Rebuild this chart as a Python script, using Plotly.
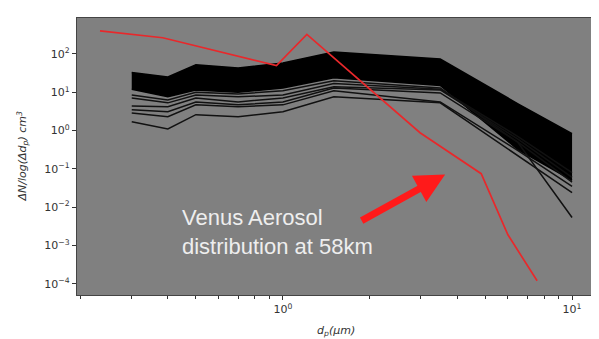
import numpy as np
import plotly.graph_objects as go

# ---- data ----
dp = [0.3, 0.4, 0.5, 0.7, 1.0, 1.5, 3.5, 6.5, 10.0]
band_top = [33, 25, 52, 43, 58, 112, 74, 5.0, 0.83]
band_bottom = [12, 7.6, 11.5, 10, 13, 24, 15, 0.32, 0.05]
line_1 = [1.7, 1.1, 2.6, 2.3, 3.1, 7.6, 5.3, 0.22, 0.024]
line_2 = [2.9, 2.3, 4.7, 4.2, 4.7, 11, 5.6, 0.30, 0.035]
line_3 = [3.5, 3.1, 5.6, 4.7, 5.6, 13, 9.6, 0.5, 0.045]
line_4 = [4.4, 4.2, 7.1, 5.6, 7.1, 14, 11.5, 0.6, 0.06]
line_5 = [7.1, 5.3, 8.5, 7.6, 8.5, 17, 12, 0.7, 0.08]
line_6 = [8.5, 6.3, 10, 9, 11, 20, 13, 0.49, 0.0054]

venus_dp = [0.233, 0.384, 0.95, 1.21, 2.98, 4.85, 6.0, 7.57]
venus_n = [400, 265, 50, 325, 0.88, 0.075, 0.0019, 1.2e-4]

x_ticks = [1, 10]
x_ticktext = ["10<sup>0</sup>", "10<sup>1</sup>"]
x_minor = [0.2, 0.3, 0.4, 0.5, 0.6, 0.7, 0.8, 0.9, 2, 3, 4, 5, 6, 7, 8, 9]
y_ticks = [1e-4, 1e-3, 1e-2, 1e-1, 1, 10, 100]
y_ticktext = ["10<sup>−4</sup>", "10<sup>−3</sup>", "10<sup>−2</sup>", "10<sup>−1</sup>",
              "10<sup>0</sup>", "10<sup>1</sup>", "10<sup>2</sup>"]

# page has an 8px body margin; figure sized so the plot box lands where the reference has it
OFF = 8
W, H = 599 - OFF, 339 - OFF
ML, MR, MT, MB = 77 - OFF, 3, 18 - OFF, 44
PL, PB = 77, 295          # plot box left / bottom in page pixels
pw = W - ML - MR
ph = H - MT - MB

fig = go.Figure()
fig.add_trace(go.Scatter(x=dp, y=band_bottom, mode="lines",
                         line=dict(color="black", width=1.5), showlegend=False))
fig.add_trace(go.Scatter(x=dp, y=band_top, mode="lines", fill="tonexty",
                         fillcolor="black", line=dict(color="black", width=1.5),
                         showlegend=False))
for ln in [line_1, line_2, line_3, line_4, line_5, line_6]:
    fig.add_trace(go.Scatter(x=dp, y=ln, mode="lines",
                             line=dict(color="#111111", width=1.5), showlegend=False))
fig.add_trace(go.Scatter(x=venus_dp, y=venus_n, mode="lines",
                         line=dict(color="#e8282b", width=1.7), showlegend=False))

tickfont = dict(family="DejaVu Sans", size=11, color="#333333")
fig.update_xaxes(type="log", range=[np.log10(0.194), np.log10(12.1)],
                 tickvals=x_ticks, ticktext=x_ticktext, ticks="outside", ticklen=4,
                 tickcolor="#333", tickfont=tickfont, showgrid=False, zeroline=False,
                 showline=True, linecolor="#444", linewidth=1.2, mirror=True,
                 automargin=False,
                 minor=dict(tickvals=x_minor, ticks="outside", ticklen=2.5,
                            tickcolor="#333", showgrid=False))
fig.update_yaxes(type="log", range=[np.log10(5.1e-5), np.log10(870)],
                 tickvals=y_ticks, ticktext=y_ticktext, ticks="outside", ticklen=4,
                 tickcolor="#333", tickfont=tickfont, showgrid=False, zeroline=False,
                 showline=True, linecolor="#444", linewidth=1.2, mirror=True,
                 automargin=False)

fig.add_annotation(text="Venus Aerosol<br>distribution at 58km", xref="paper", yref="paper",
                   x=(180 - PL) / pw, y=(PB - 203) / ph, xanchor="left", yanchor="top",
                   align="left", showarrow=False,
                   font=dict(family="Liberation Sans", size=22, color="#eeeeee"))
fig.add_annotation(text="", x=np.log10(3.64), y=np.log10(0.0715), xref="x", yref="y",
                   showarrow=True, ax=-85, ay=47, arrowcolor="#ff1a1a", arrowwidth=7,
                   arrowhead=2, arrowsize=0.85, standoff=0)
fig.add_annotation(text="<i>ΔN/log(Δd<sub>p</sub>) cm<sup>3</sup></i>", xref="paper", yref="paper",
                   x=(22 - PL) / pw, y=0.5, xanchor="center", yanchor="middle",
                   textangle=-90, showarrow=False,
                   font=dict(family="DejaVu Sans", size=11, color="#333333"))
fig.add_annotation(text="<i>d<sub>p</sub>(μm)</i>", xref="paper", yref="paper",
                   x=(336 - PL) / pw, y=-(331 - PB) / ph, xanchor="center", yanchor="middle",
                   showarrow=False,
                   font=dict(family="DejaVu Sans", size=11, color="#333333"))

fig.update_layout(width=W, height=H, margin=dict(l=ML, r=MR, t=MT, b=MB),
                  paper_bgcolor="white", plot_bgcolor="#808080", showlegend=False)
fig.write_html("out.html")
